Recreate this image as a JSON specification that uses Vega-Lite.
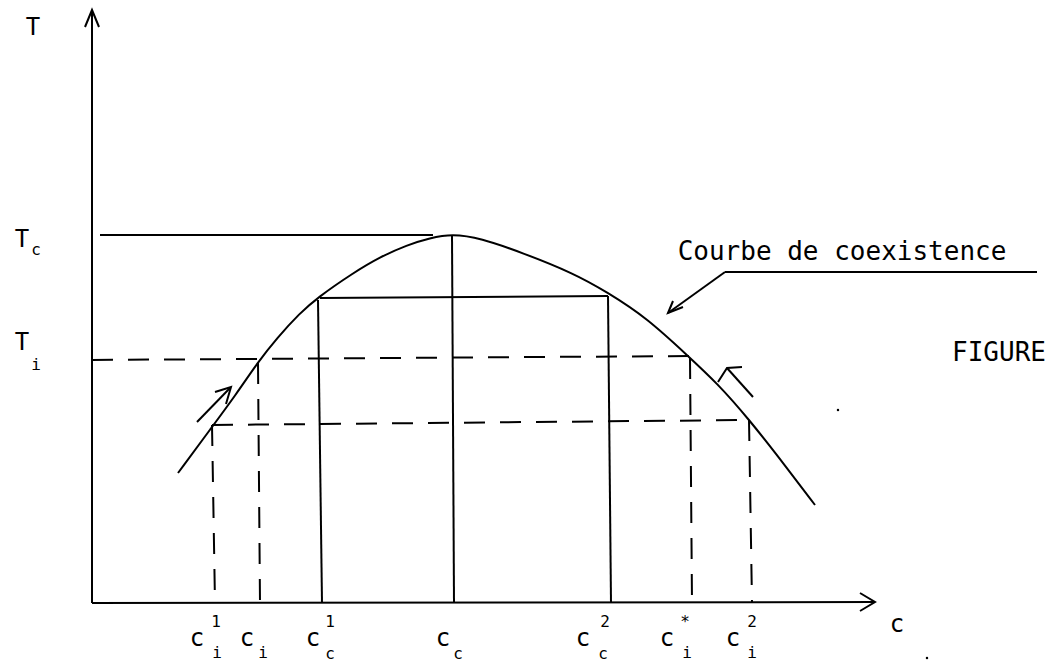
{
  "$schema": "https://vega.github.io/schema/vega-lite/v6.json",
  "width": 1046,
  "height": 662,
  "autosize": {"type": "none"},
  "padding": 0,
  "background": "white",
  "config": {"view": {"stroke": null}},
  "datasets": {
    "segs": [
      {"id": "yaxis", "kind": "solid", "ord": 0, "c": 0, "T": 0},
      {"id": "yaxis", "kind": "solid", "ord": 1, "c": 0, "T": 59.3},
      {"id": "yhead", "kind": "solid", "ord": 0, "c": -0.7, "T": 57.6},
      {"id": "yhead", "kind": "solid", "ord": 1, "c": 0, "T": 59.3},
      {"id": "yhead", "kind": "solid", "ord": 2, "c": 0.7, "T": 57.6},
      {"id": "xaxis", "kind": "solid", "ord": 0, "c": 0, "T": 0},
      {"id": "xaxis", "kind": "solid", "ord": 1, "c": 78.3, "T": 0.1},
      {"id": "xhead", "kind": "solid", "ord": 0, "c": 76.8, "T": 1.0},
      {"id": "xhead", "kind": "solid", "ord": 1, "c": 78.3, "T": 0.1},
      {"id": "xhead", "kind": "solid", "ord": 2, "c": 76.8, "T": -0.8},
      {"id": "Tc", "kind": "solid", "ord": 0, "c": 0.8, "T": 36.8},
      {"id": "Tc", "kind": "solid", "ord": 1, "c": 34.1, "T": 36.8},
      {"id": "vcc", "kind": "solid", "ord": 0, "c": 36.0, "T": 36.8},
      {"id": "vcc", "kind": "solid", "ord": 1, "c": 36.2, "T": 0},
      {"id": "h30", "kind": "solid", "ord": 0, "c": 22.8, "T": 30.5},
      {"id": "h30", "kind": "solid", "ord": 1, "c": 51.6, "T": 30.7},
      {"id": "vc1", "kind": "solid", "ord": 0, "c": 22.6, "T": 30.3},
      {"id": "vc1", "kind": "solid", "ord": 1, "c": 23.0, "T": 0},
      {"id": "vc2", "kind": "solid", "ord": 0, "c": 51.6, "T": 30.7},
      {"id": "vc2", "kind": "solid", "ord": 1, "c": 51.9, "T": 0},
      {"id": "under", "kind": "solid", "ord": 0, "c": 63.3, "T": 33.1},
      {"id": "under", "kind": "solid", "ord": 1, "c": 94.5, "T": 33.1},
      {"id": "ptr", "kind": "solid", "ord": 0, "c": 63.3, "T": 33.1},
      {"id": "ptr", "kind": "solid", "ord": 1, "c": 57.6, "T": 29.0},
      {"id": "ptrhead", "kind": "solid", "ord": 0, "c": 58.1, "T": 30.2},
      {"id": "ptrhead", "kind": "solid", "ord": 1, "c": 57.6, "T": 29.0},
      {"id": "ptrhead", "kind": "solid", "ord": 2, "c": 59.1, "T": 29.6},
      {"id": "la", "kind": "solid", "ord": 0, "c": 10.5, "T": 18.1},
      {"id": "la", "kind": "solid", "ord": 1, "c": 13.8, "T": 21.5},
      {"id": "lahead", "kind": "solid", "ord": 0, "c": 12.3, "T": 21.1},
      {"id": "lahead", "kind": "solid", "ord": 1, "c": 13.9, "T": 21.6},
      {"id": "lahead", "kind": "solid", "ord": 2, "c": 13.4, "T": 19.9},
      {"id": "ra", "kind": "solid", "ord": 0, "c": 66.1, "T": 20.6},
      {"id": "ra", "kind": "solid", "ord": 1, "c": 63.5, "T": 23.5},
      {"id": "rahead", "kind": "solid", "ord": 0, "c": 65.0, "T": 23.6},
      {"id": "rahead", "kind": "solid", "ord": 1, "c": 63.5, "T": 23.5},
      {"id": "rahead", "kind": "solid", "ord": 2, "c": 62.6, "T": 22.1},
      {"id": "Ti", "kind": "dashed", "ord": 0, "c": 0, "T": 24.3},
      {"id": "Ti", "kind": "dashed", "ord": 1, "c": 59.8, "T": 24.7},
      {"id": "low", "kind": "dashed", "ord": 0, "c": 12.0, "T": 17.8},
      {"id": "low", "kind": "dashed", "ord": 1, "c": 65.6, "T": 18.3},
      {"id": "vd1", "kind": "dashed", "ord": 0, "c": 12.0, "T": 17.8},
      {"id": "vd1", "kind": "dashed", "ord": 1, "c": 12.3, "T": 0},
      {"id": "vd2", "kind": "dashed", "ord": 0, "c": 16.6, "T": 24.0},
      {"id": "vd2", "kind": "dashed", "ord": 1, "c": 16.8, "T": 0},
      {"id": "vd3", "kind": "dashed", "ord": 0, "c": 59.8, "T": 24.5},
      {"id": "vd3", "kind": "dashed", "ord": 1, "c": 60.0, "T": 0},
      {"id": "vd4", "kind": "dashed", "ord": 0, "c": 65.7, "T": 18.3},
      {"id": "vd4", "kind": "dashed", "ord": 1, "c": 66.0, "T": 0}
    ],
    "curve": [
      {"c": 8.6, "T": 13.0},
      {"c": 12.0, "T": 17.6},
      {"c": 14.3, "T": 20.7},
      {"c": 16.6, "T": 24.1},
      {"c": 18.5, "T": 26.5},
      {"c": 20.8, "T": 29.0},
      {"c": 22.5, "T": 30.5},
      {"c": 26.1, "T": 33.0},
      {"c": 28.8, "T": 34.6},
      {"c": 31.5, "T": 35.8},
      {"c": 33.8, "T": 36.5},
      {"c": 36.0, "T": 36.9},
      {"c": 38.8, "T": 36.5},
      {"c": 43.1, "T": 35.0},
      {"c": 48.1, "T": 33.0},
      {"c": 51.5, "T": 31.1},
      {"c": 55.5, "T": 28.5},
      {"c": 59.6, "T": 24.7},
      {"c": 62.5, "T": 22.0},
      {"c": 65.6, "T": 18.5},
      {"c": 69.5, "T": 13.5},
      {"c": 72.3, "T": 9.8}
    ],
    "labels": [
      {"text": "T", "role": "main", "c": -5.9, "T": 57.5},
      {"text": "T", "role": "main", "c": -7.0, "T": 36.3},
      {"text": "c", "role": "script", "c": -5.6, "T": 35.3},
      {"text": "T", "role": "main", "c": -7.0, "T": 26.0},
      {"text": "i", "role": "script", "c": -5.6, "T": 23.8},
      {"text": "c", "role": "main", "c": 10.5, "T": -3.6},
      {"text": "1", "role": "script", "c": 12.4, "T": -1.9},
      {"text": "i", "role": "script", "c": 12.5, "T": -5.0},
      {"text": "c", "role": "main", "c": 15.5, "T": -3.6},
      {"text": "i", "role": "script", "c": 17.1, "T": -5.0},
      {"text": "c", "role": "main", "c": 22.1, "T": -3.6},
      {"text": "1", "role": "script", "c": 23.8, "T": -1.9},
      {"text": "c", "role": "script", "c": 23.8, "T": -5.1},
      {"text": "c", "role": "main", "c": 35.1, "T": -3.6},
      {"text": "c", "role": "script", "c": 36.6, "T": -5.1},
      {"text": "c", "role": "main", "c": 49.1, "T": -3.6},
      {"text": "2", "role": "script", "c": 51.3, "T": -1.9},
      {"text": "c", "role": "script", "c": 51.1, "T": -5.1},
      {"text": "c", "role": "main", "c": 57.5, "T": -3.6},
      {"text": "*", "role": "script", "c": 59.3, "T": -1.9},
      {"text": "i", "role": "script", "c": 59.5, "T": -5.0},
      {"text": "c", "role": "main", "c": 64.1, "T": -3.6},
      {"text": "2", "role": "script", "c": 66.0, "T": -1.9},
      {"text": "i", "role": "script", "c": 66.0, "T": -5.0},
      {"text": "c", "role": "main", "c": 80.5, "T": -2.2},
      {"text": "Courbe de coexistence", "role": "note", "c": 75.0, "T": 35.1},
      {"text": "FIGURE", "role": "note", "c": 90.7, "T": 25.0}
    ],
    "specks": [
      {"c": 74.6, "T": 19.3},
      {"c": 83.5, "T": -5.5}
    ]
  },
  "layer": [
    {
      "data": {"name": "segs"},
      "transform": [{"filter": "datum.kind === 'solid'"}],
      "mark": {"type": "line", "color": "black", "strokeWidth": 2},
      "encoding": {
        "x": {"field": "c", "type": "quantitative", "scale": {"domain": [-9.2, 95.4], "nice": false, "zero": false}, "axis": null},
        "y": {"field": "T", "type": "quantitative", "scale": {"domain": [-5.9, 60.3], "nice": false, "zero": false}, "axis": null},
        "detail": {"field": "id"},
        "order": {"field": "ord"}
      }
    },
    {
      "data": {"name": "segs"},
      "transform": [{"filter": "datum.kind === 'dashed'"}],
      "mark": {"type": "line", "color": "black", "strokeWidth": 2, "strokeDash": [21, 15]},
      "encoding": {
        "x": {"field": "c", "type": "quantitative"},
        "y": {"field": "T", "type": "quantitative"},
        "detail": {"field": "id"},
        "order": {"field": "ord"}
      }
    },
    {
      "data": {"name": "curve"},
      "mark": {"type": "line", "color": "black", "strokeWidth": 2, "interpolate": "basis"},
      "encoding": {
        "x": {"field": "c", "type": "quantitative"},
        "y": {"field": "T", "type": "quantitative"}
      }
    },
    {
      "data": {"name": "labels"},
      "transform": [{"filter": "datum.role === 'main'"}],
      "mark": {"type": "text", "font": "DejaVu Sans Mono", "fontSize": 24, "color": "black", "align": "center", "baseline": "middle"},
      "encoding": {
        "x": {"field": "c", "type": "quantitative"},
        "y": {"field": "T", "type": "quantitative"},
        "text": {"field": "text"}
      }
    },
    {
      "data": {"name": "labels"},
      "transform": [{"filter": "datum.role === 'script'"}],
      "mark": {"type": "text", "font": "DejaVu Sans Mono", "fontSize": 16, "color": "black", "align": "center", "baseline": "middle"},
      "encoding": {
        "x": {"field": "c", "type": "quantitative"},
        "y": {"field": "T", "type": "quantitative"},
        "text": {"field": "text"}
      }
    },
    {
      "data": {"name": "labels"},
      "transform": [{"filter": "datum.role === 'note'"}],
      "mark": {"type": "text", "font": "DejaVu Sans Mono", "fontSize": 26, "color": "black", "align": "center", "baseline": "middle"},
      "encoding": {
        "x": {"field": "c", "type": "quantitative"},
        "y": {"field": "T", "type": "quantitative"},
        "text": {"field": "text"}
      }
    },
    {
      "data": {"name": "specks"},
      "mark": {"type": "point", "filled": true, "color": "black", "size": 6, "opacity": 1},
      "encoding": {
        "x": {"field": "c", "type": "quantitative"},
        "y": {"field": "T", "type": "quantitative"}
      }
    }
  ]
}
